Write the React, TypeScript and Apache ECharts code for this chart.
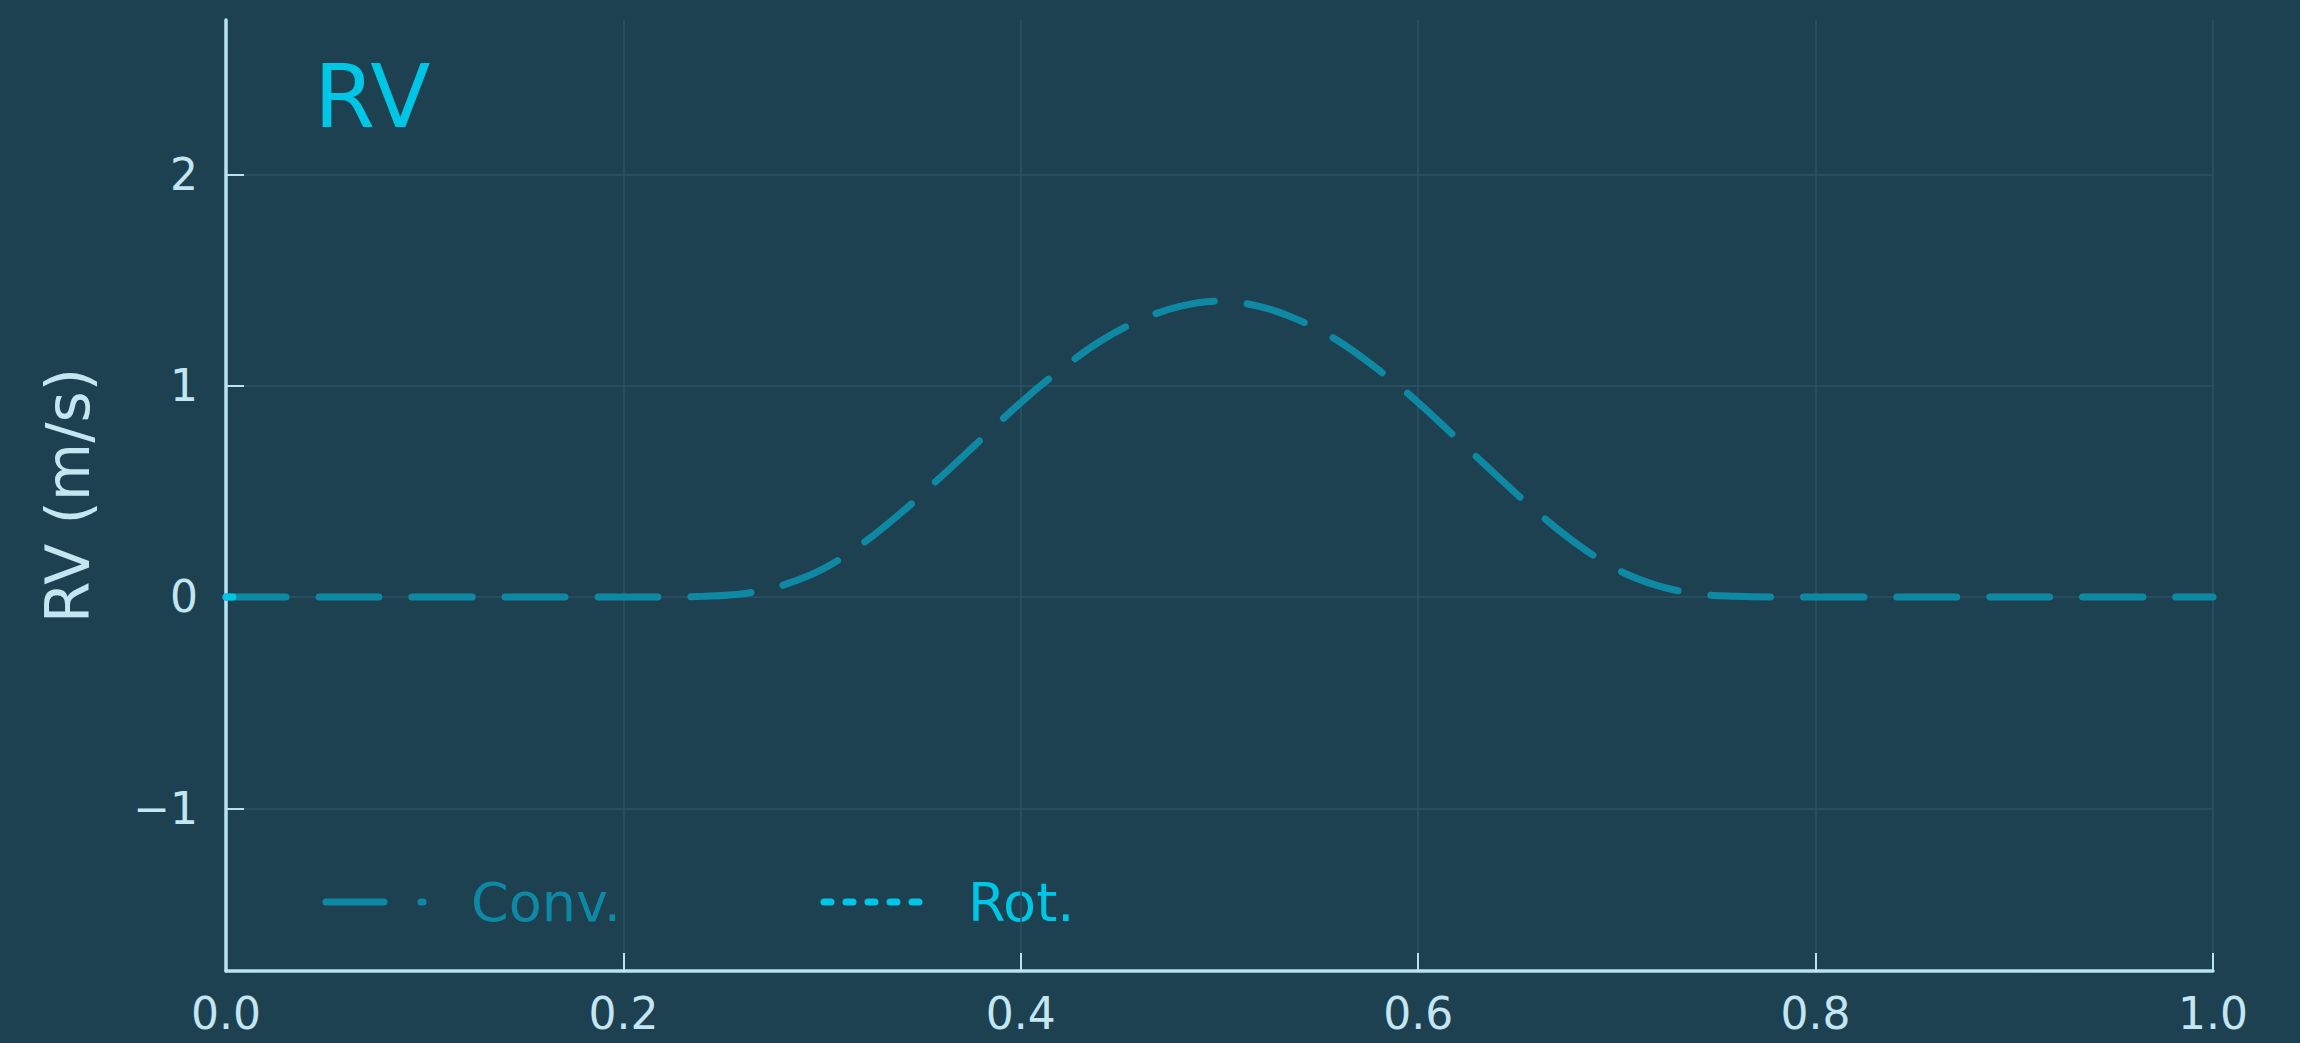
import React, { useEffect, useRef } from "react";
import * as echarts from "echarts";

// Radial velocity curves (m/s) against orbital phase
const convPhase = [
  0.0, 0.02, 0.04, 0.06, 0.08, 0.1, 0.12, 0.14, 0.16, 0.18, 0.2, 0.22,
  0.24, 0.26, 0.28, 0.3, 0.32, 0.34, 0.36, 0.38, 0.4, 0.42, 0.44, 0.46, 0.48,
  0.5, 0.52, 0.54, 0.56, 0.58, 0.6, 0.62, 0.64, 0.66, 0.68, 0.7, 0.72, 0.74,
  0.76, 0.78, 0.8, 0.82, 0.84, 0.86, 0.88, 0.9, 0.92, 0.94, 0.96, 0.98, 1.0,
];
const convRV = [
  0, 0, 0, 0, 0, 0, 0, 0, 0, 0, 0, 0,
  0.003, 0.015, 0.055, 0.13, 0.25, 0.4, 0.57, 0.745, 0.92, 1.075, 1.21, 1.31, 1.375,
  1.4, 1.375, 1.31, 1.21, 1.075, 0.92, 0.745, 0.57, 0.4, 0.25, 0.13, 0.055, 0.015,
  0.003, 0, 0, 0, 0, 0, 0, 0, 0, 0, 0, 0, 0,
];
const rotPhase = [0.0, 0.0095];
const rotRV = [0, 0];

const xTicks = [0, 0.2, 0.4, 0.6, 0.8, 1.0];
const yTicks = [-1, 0, 1, 2];
const yRange = [-1.77, 2.73];

const BG = "#1e4152";
const AXIS = "#b9e3f1";
const LABEL = "#c3e6f2";
const GRID = "#2d5265";
const CONV = "#0f89a3";
const ROT = "#00c6e6";
const FONT = "DejaVu Sans";

export default function App() {
  const ref = useRef<HTMLDivElement>(null);

  useEffect(() => {
    document.body.style.margin = "0";
    const chart = echarts.init(ref.current!, null, { renderer: "svg" });

    const zip = (xs: number[], ys: number[]) => xs.map((x, i) => [x, ys[i]]);

    chart.setOption({
      animation: false,
      backgroundColor: BG,
      textStyle: { fontFamily: FONT },
      grid: { left: 226, right: 87, top: 20, bottom: 72, containLabel: false },
      xAxis: {
        type: "value",
        min: xTicks[0],
        max: xTicks[xTicks.length - 1],
        interval: 0.2,
        axisLine: { show: true, onZero: false, lineStyle: { color: AXIS, width: 3.5 } },
        axisTick: { show: true, inside: true, length: 18, lineStyle: { color: AXIS, width: 2 } },
        axisLabel: {
          color: LABEL,
          fontSize: 44,
          margin: 20,
          fontFamily: FONT,
          showMinLabel: true,
          showMaxLabel: true,
          formatter: (v: number) => v.toFixed(1),
        },
        splitLine: { show: true, lineStyle: { color: GRID, width: 1.5 } },
      },
      yAxis: {
        type: "value",
        min: yRange[0],
        max: yRange[1],
        name: "RV (m/s)",
        nameLocation: "middle",
        nameRotate: 90,
        nameGap: 128,
        nameTextStyle: { color: LABEL, fontSize: 60, fontFamily: FONT },
        axisLine: { show: true, onZero: false, lineStyle: { color: AXIS, width: 3.5 } },
        axisTick: {
          show: true,
          inside: true,
          length: 18,
          customValues: yTicks,
          lineStyle: { color: AXIS, width: 2 },
        },
        axisLabel: {
          color: LABEL,
          fontSize: 44,
          margin: 28,
          fontFamily: FONT,
          customValues: yTicks,
          formatter: (v: number) => (v < 0 ? "\u2212" + Math.abs(v) : String(v)),
        },
        splitLine: { show: true, lineStyle: { color: GRID, width: 1.5 } },
      },
      series: [
        {
          name: "Conv.",
          type: "line",
          data: zip(convPhase, convRV),
          showSymbol: false,
          smooth: 0.35,
          lineStyle: { color: CONV, width: 7, type: [60, 33], cap: "round" },
          z: 3,
        },
        {
          name: "Rot.",
          type: "line",
          data: zip(rotPhase, rotRV),
          showSymbol: false,
          lineStyle: { color: ROT, width: 7, type: [7, 15], cap: "round" },
          z: 4,
        },
      ],
      graphic: [
        {
          type: "text",
          left: 314,
          top: 52,
          style: { text: "RV", fontSize: 88, fill: ROT, fontFamily: FONT },
        },
        {
          type: "line",
          shape: { x1: 326, y1: 902, x2: 384, y2: 902 },
          style: { stroke: CONV, lineWidth: 7, lineCap: "round" },
        },
        {
          type: "line",
          shape: { x1: 421, y1: 902, x2: 423, y2: 902 },
          style: { stroke: CONV, lineWidth: 7, lineCap: "round" },
        },
        {
          type: "text",
          x: 471,
          y: 902,
          style: {
            text: "Conv.",
            fontSize: 54,
            fill: CONV,
            fontFamily: FONT,
            verticalAlign: "middle",
          },
        },
        {
          type: "line",
          shape: { x1: 824, y1: 902, x2: 922, y2: 902 },
          style: { stroke: ROT, lineWidth: 7, lineCap: "round", lineDash: [7, 15] },
        },
        {
          type: "text",
          x: 968,
          y: 902,
          style: {
            text: "Rot.",
            fontSize: 54,
            fill: ROT,
            fontFamily: FONT,
            verticalAlign: "middle",
          },
        },
      ],
    });

    return () => chart.dispose();
  }, []);

  return (
    <div
      ref={ref}
      style={{ position: "absolute", left: 0, top: 0, width: 2300, height: 1043 }}
    />
  );
}
